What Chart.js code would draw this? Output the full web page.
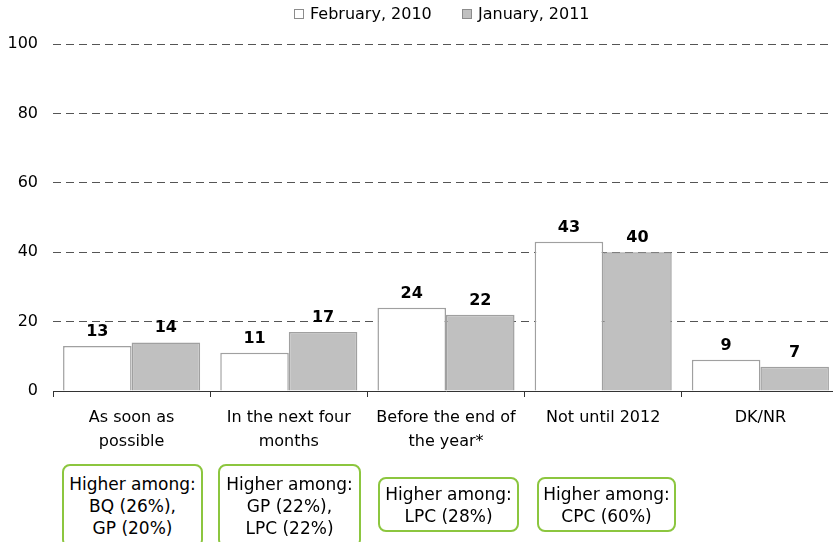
<!DOCTYPE html>
<html lang="en">
<head>
    <meta charset="UTF-8">
    <title>Timing chart</title>
    <script src="https://cdn.jsdelivr.net/npm/chart.js@4.4.1/dist/chart.umd.min.js"></script>
    <style>
        * {
            margin: 0;
            padding: 0;
            box-sizing: border-box;
        }
        body {
            width: 833px;
            height: 542px;
            overflow: hidden;
            background: #fff;
            position: relative;
            font-family: 'DejaVu Sans', sans-serif;
            color: #000;
        }
        .chart-wrap {
            position: absolute;
            left: 0;
            top: 0;
            width: 840px;
            height: 542px;
        }
        .legend-box {
            position: absolute;
            top: 9px;
            width: 10px;
            height: 10px;
            border: 1px solid #8c8c8c;
        }
        .legend-text {
            position: absolute;
            top: 4px;
            font-size: 16px;
            line-height: 20px;
            white-space: nowrap;
        }
        .note {
            position: absolute;
            border: 2px solid #8cc63f;
            border-radius: 8px;
            display: flex;
            flex-direction: column;
            justify-content: center;
            align-items: center;
            font-size: 17px;
            line-height: 22px;
            background: #fff;
        }
        .note span {
            display: block;
            white-space: nowrap;
        }
    </style>
</head>
<body>
    <div class="chart-wrap"><canvas id="chart"></canvas></div>
    <div id="legend"></div>
    <div id="notes"></div>

    <script>
        // chart data
        const categories = [
            ['As soon as', 'possible'],
            ['In the next four', 'months'],
            ['Before the end of', 'the year*'],
            ['Not until 2012'],
            ['DK/NR']
        ];
        const seriesNames = ['February, 2010', 'January, 2011'];
        const feb2010 = [13, 11, 24, 43, 9];
        const jan2011 = [14, 17, 22, 40, 7];
        const yTicks = [0, 20, 40, 60, 80, 100];

        const noteTexts = [
            ['Higher among:', 'BQ (26%),', 'GP (20%)'],
            ['Higher among:', 'GP (22%),', 'LPC (22%)'],
            ['Higher among:', 'LPC (28%)'],
            ['Higher among:', 'CPC (60%)']
        ];

        const fills = ['#ffffff', '#c0c0c0'];

        // legend
        const legendLeft = [294, 462];
        const legend = document.getElementById('legend');
        seriesNames.forEach((name, i) => {
            const box = document.createElement('span');
            box.className = 'legend-box';
            box.style.left = legendLeft[i] + 'px';
            box.style.background = fills[i];
            const txt = document.createElement('span');
            txt.className = 'legend-text';
            txt.style.left = (legendLeft[i] + 16) + 'px';
            txt.textContent = name;
            legend.appendChild(box);
            legend.appendChild(txt);
        });

        // "higher among" boxes
        const notePos = [
            { left: 62, top: 464, width: 141, height: 84 },
            { left: 218, top: 464, width: 143, height: 84 },
            { left: 378, top: 477, width: 141, height: 55 },
            { left: 537, top: 477, width: 139, height: 55 }
        ];
        const notes = document.getElementById('notes');
        noteTexts.forEach((lines, i) => {
            const d = document.createElement('div');
            d.className = 'note';
            const p = notePos[i];
            d.style.left = p.left + 'px';
            d.style.top = p.top + 'px';
            d.style.width = p.width + 'px';
            d.style.height = p.height + 'px';
            lines.forEach(t => {
                const s = document.createElement('span');
                s.textContent = t;
                d.appendChild(s);
            });
            notes.appendChild(d);
        });

        // value labels above the bars
        const valueLabels = {
            id: 'valueLabels',
            afterDatasetsDraw(chart) {
                const ctx = chart.ctx;
                ctx.save();
                ctx.font = "bold 16px 'DejaVu Sans', sans-serif";
                ctx.fillStyle = '#000';
                ctx.textAlign = 'center';
                ctx.textBaseline = 'alphabetic';
                chart.data.datasets.forEach((ds, di) => {
                    chart.getDatasetMeta(di).data.forEach((bar, i) => {
                        ctx.fillText(ds.data[i], bar.x, bar.y - 10);
                    });
                });
                ctx.restore();
            }
        };

        new Chart(document.getElementById('chart'), {
            type: 'bar',
            data: {
                labels: categories,
                datasets: [
                    {
                        label: seriesNames[0],
                        data: feb2010,
                        backgroundColor: fills[0],
                        borderColor: '#a0a0a0',
                        borderWidth: 1.5
                    },
                    {
                        label: seriesNames[1],
                        data: jan2011,
                        backgroundColor: fills[1],
                        borderColor: '#a0a0a0',
                        borderWidth: 1.5
                    }
                ]
            },
            options: {
                responsive: true,
                maintainAspectRatio: false,
                animation: false,
                categoryPercentage: 0.872,
                barPercentage: 1,
                layout: {
                    padding: { top: 44, right: 1, bottom: 79, left: 0 }
                },
                plugins: {
                    legend: { display: false },
                    tooltip: { enabled: false }
                },
                scales: {
                    x: {
                        grid: {
                            offset: true,
                            drawOnChartArea: false,
                            drawTicks: true,
                            tickLength: 6,
                            color: '#333'
                        },
                        border: { display: true, color: '#333', width: 1 },
                        ticks: {
                            color: '#000',
                            padding: 9,
                            font: { family: "'DejaVu Sans', sans-serif", size: 16, lineHeight: 1.5 }
                        }
                    },
                    y: {
                        min: 0,
                        max: 100,
                        afterFit(scale) { scale.width = 53; },
                        afterBuildTicks(scale) {
                            scale.ticks = yTicks.map(v => ({ value: v }));
                        },
                        grid: {
                            drawTicks: false,
                            color: ctx => ctx.tick && ctx.tick.value === 0 ? 'rgba(0,0,0,0)' : '#555',
                            lineWidth: 1
                        },
                        border: { display: false, dash: [8, 5] },
                        ticks: {
                            color: '#000',
                            padding: 15,
                            font: { family: "'DejaVu Sans', sans-serif", size: 16 }
                        }
                    }
                }
            },
            plugins: [valueLabels]
        });
    </script>
</body>
</html>
